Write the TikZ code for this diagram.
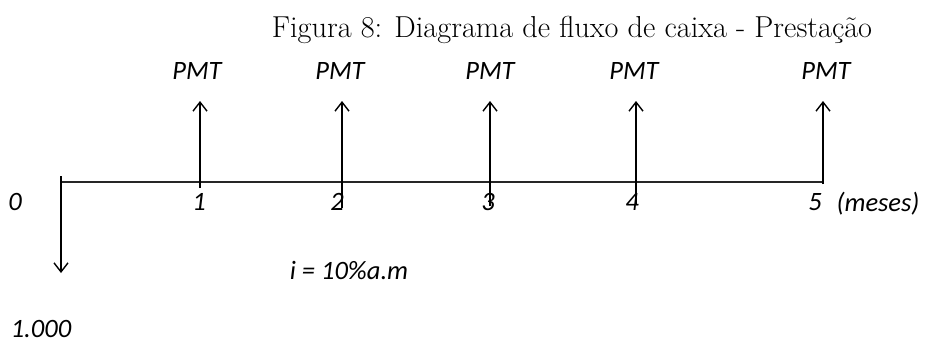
\documentclass[tikz,border=0pt]{standalone}
\usepackage{fontspec}
\newfontfamily\calib{Carlito}
\usetikzlibrary{arrows.meta}
\begin{document}
\begin{tikzpicture}[x=1pt,y=-1pt,
  lbl/.style={font=\calib\itshape\fontsize{26.5}{30}\selectfont, inner sep=0pt, text=black},
  flow/.style={line width=1.4pt, -{Straight Barb[length=9pt,width=14pt,line width=1.4pt]}},
  axis/.style={line width=1.1pt, black!85}]
\useasboundingbox (0,0) rectangle (928,345);
\node[font=\fontsize{30.3}{34}\selectfont, inner sep=0pt] (cap) at (572,30) {Figura 8: Diagrama de fluxo de caixa - Prestação};
% axis
\coordinate (a0) at (61,182);
\coordinate (a5) at (823,182);
\coordinate (a0top) at (61,176);
\draw[axis] (a0) -- (a5);
% down arrow
\coordinate (d0) at (61,273);
\draw[flow] (a0top) -- (d0);
% up arrows
\foreach \n/\x/\b in {1/200/188, 2/342/208, 3/490/206, 4/636/205, 5/823/184}{
  \coordinate (b\n) at (\x,\b);
  \coordinate (t\n) at (\x,101);
  \draw[flow] (b\n) -- (t\n);
}
% labels
\node[lbl] (p1) at (197,71) {PMT};
\node[lbl] (p2) at (340,71) {PMT};
\node[lbl] (p3) at (490,71) {PMT};
\node[lbl] (p4) at (634,71) {PMT};
\node[lbl] (p5) at (826,71) {PMT};
\node[lbl] (n0) at (15,202) {0};
\node[lbl] (n1) at (199,202) {1};
\node[lbl] (n2) at (337,202) {2};
\node[lbl] (n3) at (488,202) {3};
\node[lbl] (n4) at (632,202) {4};
\node[lbl] (n5) at (815,202) {5};
\node[lbl] (mes) at (878,204) {(meses)};
\node[lbl] (taxa) at (349,270) {i = 10\%a.m};
\node[lbl] (val) at (41,329) {1.000};
\end{tikzpicture}
\end{document}
